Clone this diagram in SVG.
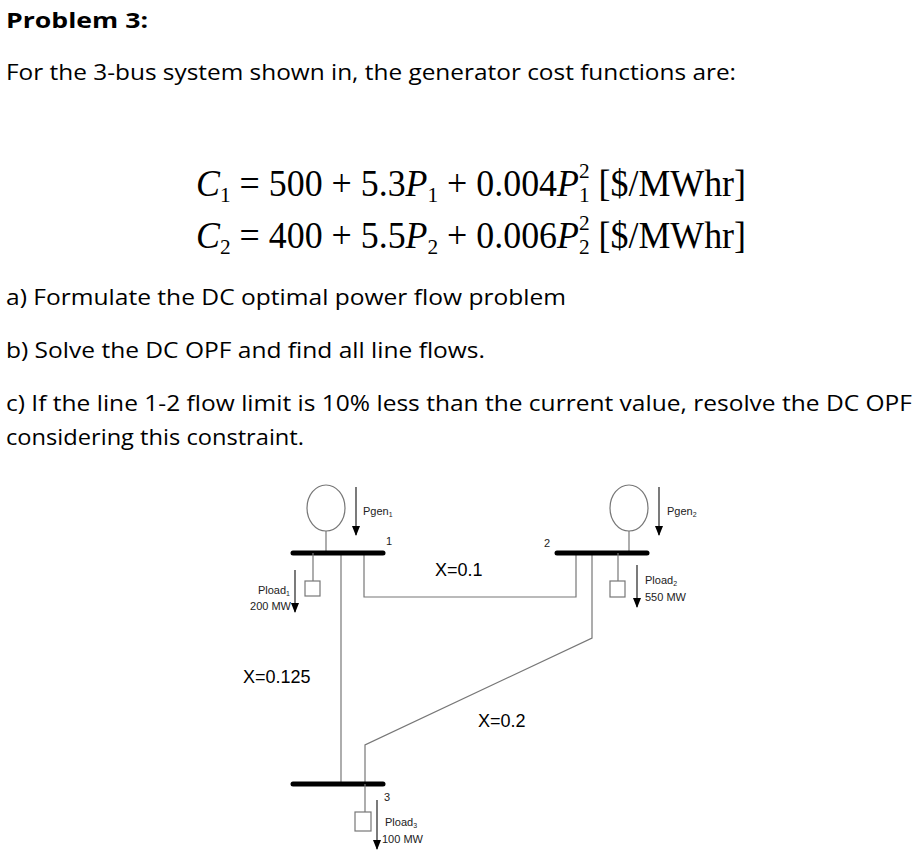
<svg xmlns="http://www.w3.org/2000/svg" width="918" height="852" viewBox="0 0 918 852">
<style>
.t{font-family:"Open Sans","Liberation Sans",sans-serif;font-size:22px;fill:#000}
.eq{font-family:"Liberation Serif",serif;font-size:37px;fill:#000}
.s{font-family:"Liberation Sans",Arial,sans-serif;font-size:11px;fill:#222}
.x{font-family:"Liberation Sans",Arial,sans-serif;font-size:18px;fill:#000}
.ln{stroke:#777;stroke-width:1.2;fill:none}
.bus{stroke:#000;stroke-width:5;stroke-linecap:round}
.ar{stroke:#222;stroke-width:1.2;marker-end:url(#a)}
</style>
<defs><marker id="a" markerWidth="10" markerHeight="8" refX="9" refY="4" orient="auto" markerUnits="userSpaceOnUse"><path d="M0,0 L10,4 L0,8 Z" fill="#000"/></marker></defs>
<rect width="918" height="852" fill="#fff"/>
<text x="6" y="28" class="t" font-weight="bold" textLength="142" lengthAdjust="spacingAndGlyphs">Problem 3:</text>
<text x="6" y="80" class="t" textLength="730" lengthAdjust="spacingAndGlyphs">For the 3-bus system shown in, the generator cost functions are:</text>
<text x="196" y="196" class="eq" textLength="550" lengthAdjust="spacingAndGlyphs"><tspan font-style="italic">C</tspan><tspan font-size="22" dy="6">1</tspan><tspan dy="-6"> = 500 + 5.3</tspan><tspan font-style="italic">P</tspan><tspan font-size="22" dy="6">1</tspan><tspan dy="-6"> + 0.004</tspan><tspan font-style="italic">P</tspan><tspan font-size="22" dy="6">1</tspan><tspan font-size="22" dx="-11" dy="-24">2</tspan><tspan dy="18"> [$/MWhr]</tspan></text>
<text x="196" y="248" class="eq" textLength="550" lengthAdjust="spacingAndGlyphs"><tspan font-style="italic">C</tspan><tspan font-size="22" dy="6">2</tspan><tspan dy="-6"> = 400 + 5.5</tspan><tspan font-style="italic">P</tspan><tspan font-size="22" dy="6">2</tspan><tspan dy="-6"> + 0.006</tspan><tspan font-style="italic">P</tspan><tspan font-size="22" dy="6">2</tspan><tspan font-size="22" dx="-11" dy="-24">2</tspan><tspan dy="18"> [$/MWhr]</tspan></text>
<text x="6" y="305" class="t" textLength="560" lengthAdjust="spacingAndGlyphs">a) Formulate the DC optimal power flow problem</text>
<text x="6" y="358" class="t" textLength="479" lengthAdjust="spacingAndGlyphs">b) Solve the DC OPF and find all line flows.</text>
<text x="6" y="411" class="t" textLength="906" lengthAdjust="spacingAndGlyphs">c) If the line 1-2 flow limit is 10% less than the current value, resolve the DC OPF</text>
<text x="6" y="445" class="t" textLength="298" lengthAdjust="spacingAndGlyphs">considering this constraint.</text>
<g id="connectors">
<polyline class="ln" points="364,553 364,597 576,597 576,553"/>
<line class="ln" x1="341" y1="553" x2="341" y2="784"/>
<polyline class="ln" points="592,553 592,638 365,745 365,784"/>
<text x="435" y="576" class="x">X=0.1</text>
<text x="243" y="683" class="x">X=0.125</text>
<text x="478" y="727" class="x">X=0.2</text>
</g>
<g id="bus1">
<ellipse cx="326" cy="508" rx="19" ry="23" fill="none" stroke="#777" stroke-width="1.2"/>
<line class="ln" x1="326" y1="531" x2="326" y2="553"/>
<line class="ar" x1="356" y1="487" x2="356" y2="535"/>
<text x="363" y="515" class="s">Pgen<tspan font-size="7" dy="2">1</tspan></text>
<line class="bus" x1="293" y1="553" x2="383" y2="553"/>
<text x="386" y="545" class="s" font-size="10">1</text>
<line class="ln" x1="313" y1="553" x2="313" y2="581"/>
<rect x="305" y="581" width="15" height="15" class="ln"/>
<line class="ar" x1="295" y1="570" x2="295" y2="612"/>
<text x="290" y="594" class="s" text-anchor="end">Pload<tspan font-size="7" dy="2">1</tspan></text>
<text x="291" y="610" class="s" text-anchor="end">200 MW</text>
</g>
<g id="bus2">
<ellipse cx="629" cy="508" rx="19" ry="23" fill="none" stroke="#777" stroke-width="1.2"/>
<line class="ln" x1="629" y1="531" x2="629" y2="553"/>
<line class="ar" x1="659" y1="487" x2="659" y2="535"/>
<text x="667" y="515" class="s">Pgen<tspan font-size="7" dy="2">2</tspan></text>
<line class="bus" x1="557" y1="553" x2="647" y2="553"/>
<text x="544" y="547" class="s" font-size="10">2</text>
<line class="ln" x1="618" y1="553" x2="618" y2="581"/>
<rect x="610" y="581" width="15" height="16" class="ln"/>
<line class="ar" x1="637" y1="565" x2="637" y2="607"/>
<text x="645" y="584" class="s">Pload<tspan font-size="7" dy="2">2</tspan></text>
<text x="645" y="601" class="s">550 MW</text>
</g>
<g id="bus3">
<line class="bus" x1="293" y1="784" x2="383" y2="784"/>
<text x="384" y="801" class="s" font-size="10">3</text>
<line class="ln" x1="365" y1="784" x2="365" y2="812"/>
<rect x="355" y="812" width="16" height="19" class="ln"/>
<line class="ar" x1="377" y1="800" x2="377" y2="849"/>
<text x="385" y="826" class="s">Pload<tspan font-size="7" dy="2">3</tspan></text>
<text x="382" y="843" class="s">100 MW</text>
</g>
</svg>
